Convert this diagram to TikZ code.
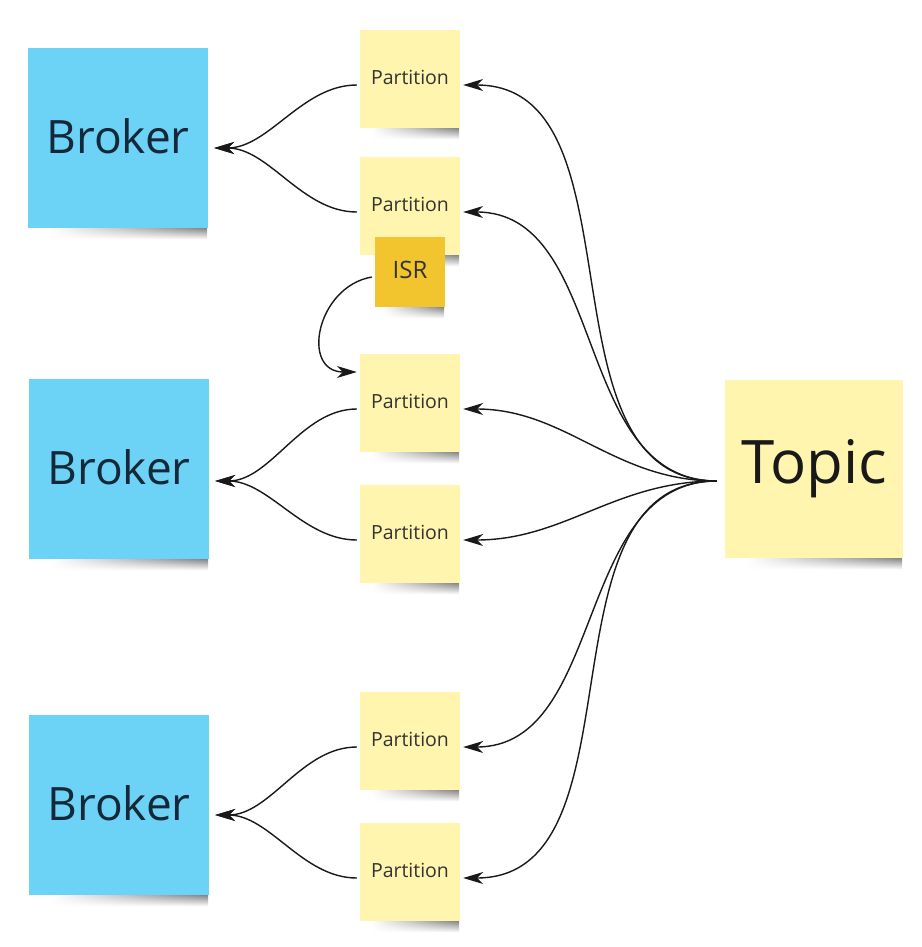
\documentclass[tikz,border=0pt]{standalone}
\usepackage{fontspec}
\setmainfont{Open Sans}
\usetikzlibrary{arrows.meta,calc,fadings}
\definecolor{brokerblue}{HTML}{6CD2F6}
\definecolor{noteyellow}{HTML}{FFF5AE}
\definecolor{isryellow}{HTML}{F2C52E}
\definecolor{txtdark}{HTML}{14283A}
\pgfdeclarelayer{bgw}
\pgfdeclarelayer{shl}
\pgfsetlayers{bgw,shl,main}
\tikzfading[name=shfade, left color=transparent!100, right color=transparent!20]
\tikzset{
  note/.style={rectangle, inner sep=0pt, anchor=center},
  brokerbox/.style={note, fill=brokerblue, minimum width=180pt, minimum height=180pt,
    font=\fontsize{46}{50}\selectfont, text=txtdark},
  partbox/.style={note, fill=noteyellow, minimum width=100pt, minimum height=98pt,
    font=\fontsize{19.5}{22}\selectfont, text=black!80},
  isrbox/.style={note, fill=isryellow, minimum width=70pt, minimum height=70pt,
    font=\fontsize{24}{26}\selectfont, text=black!80},
  topicbox/.style={note, fill=noteyellow, minimum width=178pt, minimum height=178pt,
    font=\fontsize{60}{64}\selectfont, text=black!90},
  conn/.style={line width=1.4pt, draw=black!90, -{Stealth[length=20pt,width=12pt,inset=6pt]}},
  noteshadow/.style={top color=black!70, bottom color=white, path fading=shfade},
}
\begin{document}
\begin{tikzpicture}[x=1pt,y=-1pt]
\useasboundingbox (0,0) rectangle (921,947);
\begin{pgfonlayer}{bgw}
\fill[white] (0,0) rectangle (921,947);
\end{pgfonlayer}

% Brokers
\node[brokerbox] (b1) at (118,138) {\raisebox{3pt}{Broker}};
\node[brokerbox] (b2) at (119,469) {\raisebox{3pt}{Broker}};
\node[brokerbox] (b3) at (119,805) {\raisebox{3pt}{Broker}};

% Partitions
\node[partbox] (p1) at (410,79) {\raisebox{3pt}{Partition}};
\node[partbox] (p2) at (410,206) {\raisebox{3pt}{Partition}};
\node[partbox] (p3) at (410,403) {\raisebox{3pt}{Partition}};
\node[partbox] (p4) at (410,534) {\raisebox{3pt}{Partition}};
\node[partbox] (p5) at (410,741) {\raisebox{3pt}{Partition}};
\node[partbox] (p6) at (410,872) {\raisebox{3pt}{Partition}};

% ISR
\node[isrbox] (isr) at (410,272) {\raisebox{4pt}{ISR}};

% Topic
\node[topicbox] (topic) at (814,469) {Topic};

% soft shadows under the notes
\begin{pgfonlayer}{shl}
\foreach \n/\l in {b1/22,b2/22,b3/22,topic/22,p1/12,p2/12,p3/12,p4/12,p5/12,p6/12,isr/8}{
  \shade[noteshadow] ($(\n.south west)+(\l,-2)$) rectangle ($(\n.south east)+(-1,11)$);
}
\end{pgfonlayer}

% named end points
\coordinate (t0) at ($(topic.west)+(-8,12)$);
\foreach \i in {1,...,6}{
  \coordinate (pl\i) at ($(p\i.west)+(-3,6)$);
  \coordinate (pr\i) at ($(p\i.east)+(3,6)$);
}
\coordinate (bt1) at ($(b1.east)+(6,10)$);
\coordinate (bt2) at ($(b2.east)+(6,12)$);
\coordinate (bt3) at ($(b3.east)+(6,10)$);
\coordinate (isrl) at ($(isr.west)+(-3,5)$);
\coordinate (p3in) at ($(p3.west)+(-3,-31)$);

% partitions -> brokers
\draw[conn] (pl1) to[out=180,in=0,looseness=0.9] (bt1);
\draw[conn] (pl2) to[out=180,in=0,looseness=0.9] (bt1);
\draw[conn] (pl3) to[out=180,in=0,looseness=0.9] (bt2);
\draw[conn] (pl4) to[out=180,in=0,looseness=0.9] (bt2);
\draw[conn] (pl5) to[out=180,in=0,looseness=0.9] (bt3);
\draw[conn] (pl6) to[out=180,in=0,looseness=0.9] (bt3);

% topic -> partitions
\foreach \i in {1,...,6}{
  \draw[conn] (t0) to[out=180,in=0,looseness=1] (pr\i);
}

% ISR -> partition
\draw[conn] (isrl) to[out=190,in=180,looseness=1.5] (p3in);
\end{tikzpicture}
\end{document}
